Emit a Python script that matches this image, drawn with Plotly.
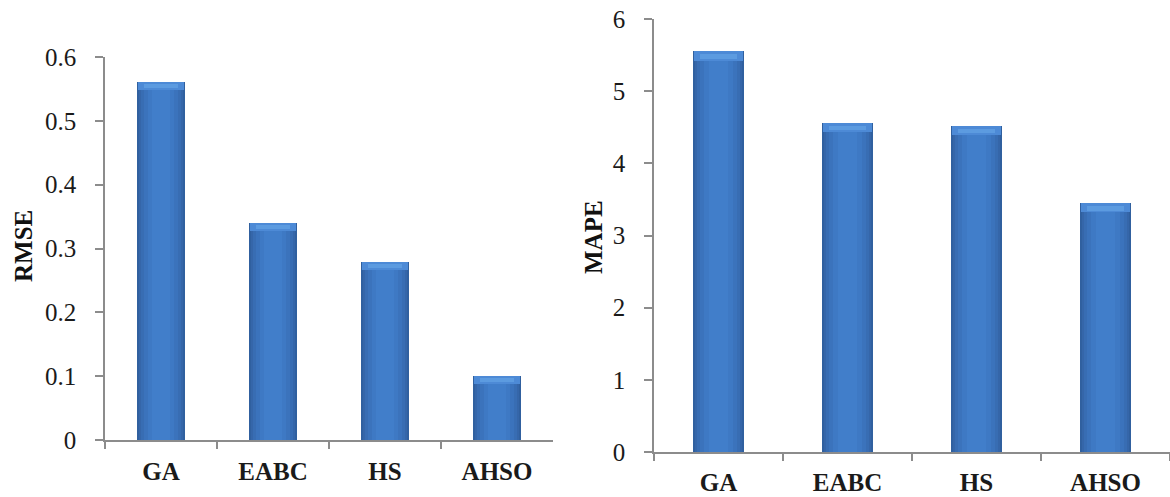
import plotly.graph_objects as go

# Algorithms compared
methods = ["GA", "EABC", "HS", "AHSO"]
rmse = [0.561, 0.340, 0.279, 0.100]
mape = [5.55, 4.56, 4.52, 3.45]

rmse_ticks = [0, 0.1, 0.2, 0.3, 0.4, 0.5, 0.6]
rmse_tick_text = ["0", "0.1", "0.2", "0.3", "0.4", "0.5", "0.6"]
mape_ticks = [0, 1, 2, 3, 4, 5, 6]
mape_tick_text = ["0", "1", "2", "3", "4", "5", "6"]

W, H = 1170, 497
SERIF = "Liberation Serif"
AXIS_GREY = "#8c8c8c"

# Layers of narrowing bars give the rounded, shaded column look
shade_layers = [
    (1.00, "#30609f"),
    (0.92, "#3566a9"),
    (0.82, "#386db3"),
    (0.70, "#3b73bc"),
    (0.55, "#3e79c4"),
    (0.38, "#417eca"),
]

fig = go.Figure()


def add_columns(values, full_width, xa, ya, cap):
    for frac, colour in shade_layers:
        fig.add_trace(go.Bar(
            x=methods, y=values, width=full_width * frac,
            marker=dict(color=colour, line=dict(width=0)),
            xaxis=xa, yaxis=ya, showlegend=False, hoverinfo="skip",
        ))
    # light bevel on the top of each column
    fig.add_trace(go.Bar(
        x=methods, y=[cap] * len(values), base=[v - cap for v in values],
        width=full_width * 0.96,
        marker=dict(color="#4d8ad6", line=dict(width=0)),
        xaxis=xa, yaxis=ya, showlegend=False, hoverinfo="skip",
    ))
    fig.add_trace(go.Bar(
        x=methods, y=[cap * 0.5] * len(values), base=[v - cap * 0.8 for v in values],
        width=full_width * 0.72,
        marker=dict(color="#5c9be0", line=dict(width=0)),
        xaxis=xa, yaxis=ya, showlegend=False, hoverinfo="skip",
    ))


add_columns(rmse, 0.43, "x", "y", 0.012)
add_columns(mape, 0.40, "x2", "y2", 0.13)

xcommon = dict(
    type="category", showgrid=False, zeroline=False, automargin=False,
    showline=True, linecolor=AXIS_GREY, linewidth=1.5,
    ticks="outside", ticklen=7, tickcolor=AXIS_GREY, tickwidth=1.5,
    tickson="boundaries",
    tickfont=dict(family=SERIF, size=25, color="#1a1a1a"),
    tickvals=methods, ticktext=["<b>%s</b>" % m for m in methods],
)
ycommon = dict(
    showgrid=False, zeroline=False, automargin=False,
    showline=True, linecolor=AXIS_GREY, linewidth=1.5,
    ticks="outside", ticklen=8, tickcolor=AXIS_GREY, tickwidth=1.5,
    tickfont=dict(family=SERIF, size=25, color="#1a1a1a"),
    ticklabelstandoff=14,
)

fig.update_layout(
    width=W, height=H,
    margin=dict(l=0, r=0, t=0, b=0, autoexpand=False),
    paper_bgcolor="white", plot_bgcolor="white",
    barmode="overlay", bargap=0,
    xaxis=dict(domain=[105 / W, 553 / W], anchor="y", ticklabelstandoff=8, **xcommon),
    yaxis=dict(domain=[(H - 440) / H, (H - 57) / H], anchor="x", range=[0, 0.6],
               tickvals=rmse_ticks, ticktext=rmse_tick_text, **ycommon),
    xaxis2=dict(domain=[654 / W, 1.0], anchor="y2", ticklabelstandoff=7, **xcommon),
    yaxis2=dict(domain=[(H - 452) / H, (H - 19) / H], anchor="x2", range=[0, 6],
                tickvals=mape_ticks, ticktext=mape_tick_text, **ycommon),
    annotations=[
        dict(text="<b>RMSE</b>", x=23 / W, y=(H - 246) / H, xref="paper", yref="paper",
             textangle=-90, showarrow=False, xanchor="center", yanchor="middle",
             font=dict(family=SERIF, size=25, color="#111")),
        dict(text="<b>MAPE</b>", x=593 / W, y=(H - 237) / H, xref="paper", yref="paper",
             textangle=-90, showarrow=False, xanchor="center", yanchor="middle",
             font=dict(family=SERIF, size=25, color="#111")),
    ],
)

fig.write_html("out.html")
